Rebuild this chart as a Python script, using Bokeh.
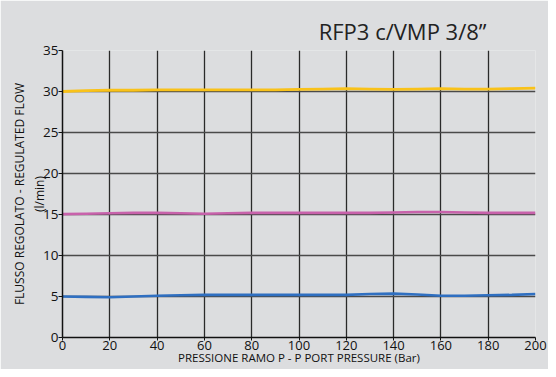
from bokeh.plotting import figure
from bokeh.models import Range1d, FixedTicker, Title
from bokeh.embed import file_html
from bokeh.resources import INLINE

pressure = [0, 10, 20, 30, 40, 50, 60, 70, 80, 90, 100, 110, 120, 130, 140, 150, 160, 170, 180, 190, 200]
flow_5 = [5.0, 4.95, 4.9, 5.0, 5.1, 5.15, 5.2, 5.2, 5.2, 5.2, 5.2, 5.2, 5.2, 5.3, 5.35, 5.25, 5.1, 5.1, 5.15, 5.2, 5.3]
flow_15 = [15.05, 15.1, 15.15, 15.2, 15.2, 15.15, 15.1, 15.15, 15.2, 15.2, 15.2, 15.2, 15.2, 15.2, 15.25, 15.3, 15.3, 15.25, 15.2, 15.2, 15.2]
flow_30 = [30.0, 30.1, 30.15, 30.15, 30.2, 30.2, 30.2, 30.2, 30.2, 30.2, 30.25, 30.3, 30.35, 30.3, 30.25, 30.3, 30.35, 30.3, 30.3, 30.35, 30.4]
x_ticks = [0, 20, 40, 60, 80, 100, 120, 140, 160, 180, 200]
y_ticks = [0, 5, 10, 15, 20, 25, 30, 35]

FONT = "Open Sans"
BG = "#dcdddf"

p = figure(width=548, height=369, output_backend="svg", toolbar_location=None,
           x_range=Range1d(0, 200), y_range=Range1d(0, 35),
           background_fill_color=BG, border_fill_color=BG,
           min_border_left=62, min_border_right=13, min_border_top=8, min_border_bottom=32)

t = Title(text="RFP3 c/VMP 3/8\u201d", align="right", offset=49, text_font=FONT,
          text_font_size="22px", text_font_style="normal", text_color="#222222",
          standoff=10)
p.add_layout(t, "above")
spacer = Title(text=" ", text_font_size="5.5px", standoff=0)
p.add_layout(spacer, "above")

p.outline_line_color = None

p.xaxis.ticker = FixedTicker(ticks=x_ticks)
p.yaxis.ticker = FixedTicker(ticks=y_ticks)
for ax in (p.xaxis[0], p.yaxis[0]):
    ax.axis_line_color = "#111111"
    ax.axis_line_width = 1.5
    ax.major_tick_line_color = "#111111"
    ax.minor_tick_line_color = None
    ax.major_tick_in = 0
    ax.major_tick_out = 4
    ax.major_label_text_font = FONT
    ax.major_label_text_font_size = "13.5px"
    ax.major_label_text_color = "#111111"
    ax.axis_label_text_font = FONT
    ax.axis_label_text_font_style = "normal"
    ax.axis_label_text_color = "#111111"
    ax.axis_label_text_font_size = "12px"

p.xaxis.major_tick_out = 3
p.xaxis.major_label_text_font_size = "13px"
p.xaxis.major_label_standoff = 0
p.yaxis.major_label_standoff = 0
p.xaxis.axis_label = "PRESSIONE RAMO P - P PORT PRESSURE (Bar)"
p.xaxis.axis_label_text_font_size = "11.5px"
p.xaxis.axis_label_standoff = -3
p.yaxis.axis_label = "FLUSSO REGOLATO - REGULATED FLOW\n(l/min)"
p.yaxis.axis_label_standoff = -8

p.xgrid.grid_line_color = "#2a2a2a"
p.xgrid.grid_line_width = 1.3
p.ygrid.grid_line_color = "#4a4a4a"
p.ygrid.grid_line_width = 1.5

p.line(pressure, flow_5, line_color="#2f6fc1", line_width=2.6)
p.line(pressure, flow_15, line_color="#c862ab", line_width=2.6)
p.line(pressure, flow_30, line_color="#f9c21a", line_width=2.8)

open("out.html", "w").write(file_html(p, INLINE))
